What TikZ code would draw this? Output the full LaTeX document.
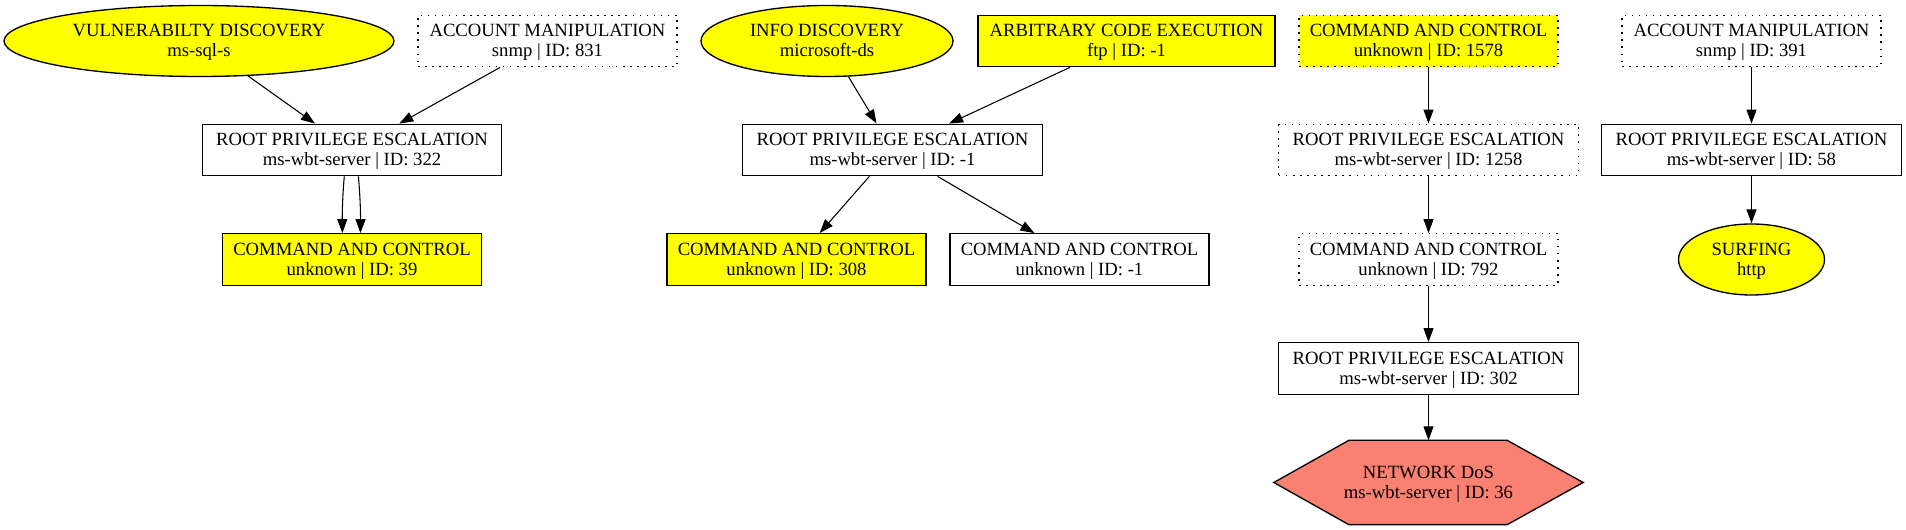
\documentclass[tikz,border=0pt]{standalone}
\usepackage{fontspec}
\setmainfont{Liberation Serif}
\usetikzlibrary{arrows.meta,shapes.geometric,calc,backgrounds}
\definecolor{gvyellow}{HTML}{FFFF00}
\definecolor{gvsalmon}{HTML}{FA8072}
\newcommand{\lbl}[2]{\rule{0pt}{11pt}\smash{#1}\\\smash{#2}\rule[-2.3pt]{0pt}{2.3pt}}
\begin{document}
\begin{tikzpicture}[x=0.75pt,y=-0.75pt,
  nd/.style={font=\fontsize{14pt}{15pt}\selectfont, inner sep=0pt, align=center, line width=1pt, draw=black},
  boxroot/.style={nd, rectangle, minimum width=224.6pt, minimum height=38.6pt},
  boxcc/.style={nd, rectangle, minimum width=194.25pt, minimum height=38.6pt},
  boxace/.style={nd, rectangle, minimum width=222.75pt, minimum height=38.6pt},
  ovalnode/.style={nd, ellipse, fill=gvyellow, minimum height=53.25pt},
  yel/.style={fill=gvyellow},
  dotbox/.style={dash pattern=on 1.2pt off 4.1pt},
  arr/.style={line width=0.8pt, -{Triangle[length=10.5pt,width=7.5pt]}}
]
\useasboundingbox (0,0) rectangle (1906,530);

% rank 0
\node[ovalnode, minimum width=292.5pt] (vuln) at (199,41) {\lbl{VULNERABILTY DISCOVERY}{ms-sql-s}};
\node[boxcc, dotbox] (acc831) at (547.5,41) {\lbl{ACCOUNT MANIPULATION}{snmp | ID: 831}};
\node[ovalnode, minimum width=189pt] (info) at (827,41) {\lbl{INFO DISCOVERY}{microsoft-ds}};
\node[boxace, yel] (ace) at (1126.5,41) {\lbl{ARBITRARY CODE EXECUTION}{ftp | ID: -1}};
\node[boxcc, yel, dotbox] (cc1578) at (1428.5,41) {\lbl{COMMAND AND CONTROL}{unknown | ID: 1578}};
\node[boxcc, dotbox] (acc391) at (1751.5,41) {\lbl{ACCOUNT MANIPULATION}{snmp | ID: 391}};

% rank 1
\node[boxroot] (r322) at (352,150) {\lbl{ROOT PRIVILEGE ESCALATION}{ms-wbt-server | ID: 322}};
\node[boxroot] (rm1) at (892.5,150) {\lbl{ROOT PRIVILEGE ESCALATION}{ms-wbt-server | ID: -1}};
\node[boxroot, dotbox] (r1258) at (1428.5,150) {\lbl{ROOT PRIVILEGE ESCALATION}{ms-wbt-server | ID: 1258}};
\node[boxroot] (r58) at (1751.5,150) {\lbl{ROOT PRIVILEGE ESCALATION}{ms-wbt-server | ID: 58}};

% rank 2
\node[boxcc, yel] (cc39) at (352,259.5) {\lbl{COMMAND AND CONTROL}{unknown | ID: 39}};
\node[boxcc, yel] (cc308) at (796.5,259.5) {\lbl{COMMAND AND CONTROL}{unknown | ID: 308}};
\node[boxcc] (ccm1) at (1079.5,259.5) {\lbl{COMMAND AND CONTROL}{unknown | ID: -1}};
\node[boxcc, dotbox] (cc792) at (1428.5,259.5) {\lbl{COMMAND AND CONTROL}{unknown | ID: 792}};
\node[ovalnode, minimum width=109.5pt] (surf) at (1751.5,259.5) {\lbl{SURFING}{http}};

% rank 3
\node[boxroot] (r302) at (1428.5,368.5) {\lbl{ROOT PRIVILEGE ESCALATION}{ms-wbt-server | ID: 302}};

% rank 4
\node[nd, draw=none, rectangle, minimum width=231pt, minimum height=62.25pt] (dos) at (1428.5,482.5) {\lbl{NETWORK DoS}{ms-wbt-server | ID: 36}};
\begin{scope}[on background layer]
\filldraw[fill=gvsalmon, draw=black, line width=1pt]
  (dos.west) -- ($(dos.north west)+(75,0)$) -- ($(dos.north east)+(-76,0)$) -- (dos.east)
  -- ($(dos.south east)+(-76,0)$) -- ($(dos.south west)+(75,0)$) -- cycle;
\end{scope}

% edges
\draw[arr] (vuln) -- (r322);
\draw[arr] (acc831) -- (r322);
\draw[arr] ($(r322.south)+(-7.7,0)$) .. controls ($(r322.south)+(-9.5,20)$) and ($(cc39.north)+(-9.8,-20)$) .. ($(cc39.north)+(-9.6,0)$);
\draw[arr] ($(r322.south)+(6.4,0)$) .. controls ($(r322.south)+(8.2,20)$) and ($(cc39.north)+(8.6,-20)$) .. ($(cc39.north)+(8.4,0)$);
\draw[arr] (info) -- (rm1);
\draw[arr] (ace) -- (rm1);
\draw[arr] (rm1) -- (cc308);
\draw[arr] (rm1) -- (ccm1);
\draw[arr] (cc1578) -- (r1258);
\draw[arr] (r1258) -- (cc792);
\draw[arr] (cc792) -- (r302);
\draw[arr] (r302) -- (dos);
\draw[arr] (acc391) -- (r58);
\draw[arr] (r58) -- (surf);
\end{tikzpicture}
\end{document}
